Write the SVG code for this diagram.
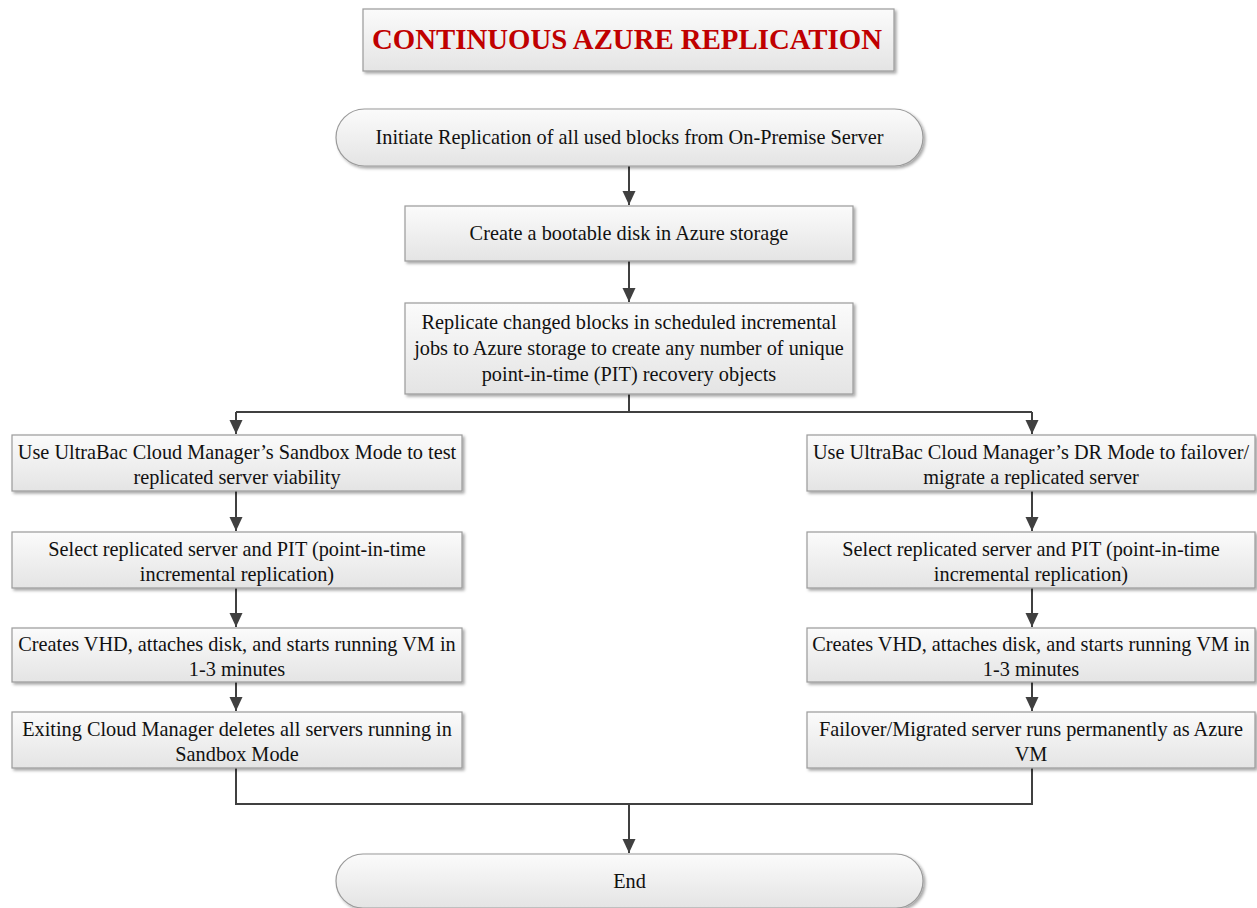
<svg xmlns="http://www.w3.org/2000/svg" width="1257" height="908" viewBox="0 0 1257 908">
<defs>
<linearGradient id="g" x1="0" y1="0" x2="0" y2="1">
<stop offset="0" stop-color="#fbfbfb"/>
<stop offset="1" stop-color="#e4e4e4"/>
</linearGradient>
<filter id="sh" x="-5%" y="-10%" width="110%" height="130%">
<feDropShadow dx="2" dy="2" stdDeviation="1.5" flood-color="#000" flood-opacity="0.35"/>
</filter>
<marker id="ah" markerUnits="userSpaceOnUse" markerWidth="14" markerHeight="14" viewBox="0 0 14 14" refX="14" refY="7" orient="auto">
<path d="M0,0.5 L14,7 L0,13.5 Z" fill="#404040"/>
</marker>
</defs>
<style>
.box{fill:url(#g);stroke:#9a9a9a;stroke-width:1.2;filter:url(#sh)}
.t{font-family:"Liberation Serif","Times New Roman",serif;font-size:20.3px;fill:#111;text-anchor:middle}
.title{font-family:"Liberation Serif","Times New Roman",serif;font-size:28.8px;font-weight:bold;fill:#c00000;text-anchor:middle}
.c{fill:none;stroke:#404040;stroke-width:2}
</style>
<rect width="1257" height="908" fill="#fff"/>
<g id="title">
<rect class="box" x="363" y="9" width="531" height="62"/>
<text class="title" x="627" y="49">CONTINUOUS AZURE REPLICATION</text>
</g>
<g id="connectors">
<path class="c" d="M629,166 V205" marker-end="url(#ah)"/>
<path class="c" d="M629,261 V302" marker-end="url(#ah)"/>
<path class="c" d="M629,394 V412 M236,412 H1032"/>
<path class="c" d="M236,412 V434" marker-end="url(#ah)"/>
<path class="c" d="M1032,412 V434" marker-end="url(#ah)"/>
<path class="c" d="M236,491 V531" marker-end="url(#ah)"/>
<path class="c" d="M236,588 V627" marker-end="url(#ah)"/>
<path class="c" d="M236,682 V711" marker-end="url(#ah)"/>
<path class="c" d="M1032,491 V531" marker-end="url(#ah)"/>
<path class="c" d="M1032,588 V627" marker-end="url(#ah)"/>
<path class="c" d="M1032,682 V711" marker-end="url(#ah)"/>
<path class="c" d="M236,768 V804 H1032 V768"/>
<path class="c" d="M629,804 V853" marker-end="url(#ah)"/>
</g>
<g id="start">
<rect class="box" x="336" y="109" width="587" height="57" rx="28.5"/>
<text class="t" x="629.5" y="144">Initiate Replication of all used blocks from On-Premise Server</text>
</g>
<g id="create">
<rect class="box" x="405" y="206" width="448" height="55"/>
<text class="t" x="629" y="240">Create a bootable disk in Azure storage</text>
</g>
<g id="replicate">
<rect class="box" x="405" y="303" width="448" height="91"/>
<text class="t" x="629" y="329">Replicate changed blocks in scheduled incremental</text>
<text class="t" x="629" y="355">jobs to Azure storage to create any number of unique</text>
<text class="t" x="629" y="381">point-in-time (PIT) recovery objects</text>
</g>
<g id="sandbox">
<rect class="box" x="12" y="435" width="450" height="56"/>
<text class="t" x="237" y="459">Use UltraBac Cloud Manager’s Sandbox Mode to test</text>
<text class="t" x="237" y="484">replicated server viability</text>
</g>
<g id="selectL">
<rect class="box" x="12" y="532" width="450" height="56"/>
<text class="t" x="237" y="556">Select replicated server and PIT (point-in-time</text>
<text class="t" x="237" y="581">incremental replication)</text>
</g>
<g id="createsL">
<rect class="box" x="12" y="628" width="450" height="54"/>
<text class="t" x="237" y="651">Creates VHD, attaches disk, and starts running VM in</text>
<text class="t" x="237" y="676">1-3 minutes</text>
</g>
<g id="exiting">
<rect class="box" x="12" y="712" width="450" height="56"/>
<text class="t" x="237" y="736">Exiting Cloud Manager deletes all servers running in</text>
<text class="t" x="237" y="761">Sandbox Mode</text>
</g>
<g id="dr">
<rect class="box" x="807" y="435" width="448" height="56"/>
<text class="t" x="1031" y="459">Use UltraBac Cloud Manager’s DR Mode to failover/</text>
<text class="t" x="1031" y="484">migrate a replicated server</text>
</g>
<g id="selectR">
<rect class="box" x="807" y="532" width="448" height="56"/>
<text class="t" x="1031" y="556">Select replicated server and PIT (point-in-time</text>
<text class="t" x="1031" y="581">incremental replication)</text>
</g>
<g id="createsR">
<rect class="box" x="807" y="628" width="448" height="54"/>
<text class="t" x="1031" y="651">Creates VHD, attaches disk, and starts running VM in</text>
<text class="t" x="1031" y="676">1-3 minutes</text>
</g>
<g id="failover">
<rect class="box" x="807" y="712" width="448" height="56"/>
<text class="t" x="1031" y="736">Failover/Migrated server runs permanently as Azure</text>
<text class="t" x="1031" y="761">VM</text>
</g>
<g id="end">
<rect class="box" x="336" y="854" width="587" height="54" rx="27"/>
<text class="t" x="629.5" y="888">End</text>
</g>
</svg>
